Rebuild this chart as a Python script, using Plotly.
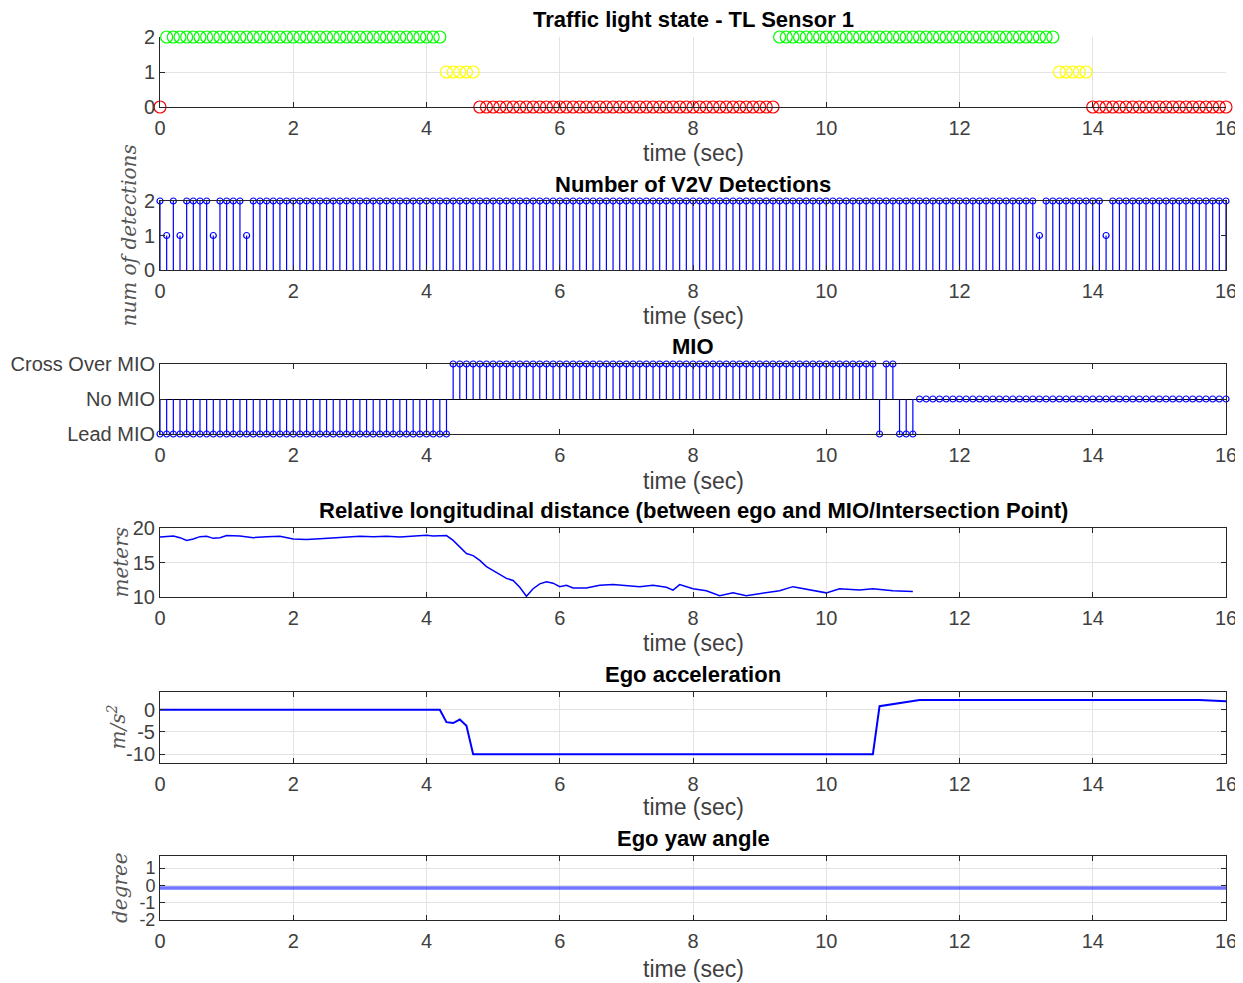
import numpy as np
import plotly.graph_objects as go

# ---------------- DATA ----------------
DT = 0.1
N_SAMPLES = 161
time = np.round(np.arange(N_SAMPLES) * DT, 1)

# Traffic light state segments: (state, t_start, t_end)  2=green 1=yellow 0=red
tl_segments = [
    (0, 0.0, 0.0),
    (2, 0.1, 4.2),
    (1, 4.3, 4.7),
    (0, 4.8, 9.2),
    (2, 9.3, 13.4),
    (1, 13.5, 13.9),
    (0, 14.0, 16.0),
]
tl_colors = {2: "#00FF00", 1: "#FFFF00", 0: "#FF0000"}

# Number of V2V detections: 2 everywhere except these sample times (value 1)
v2v_default = 2
v2v_exceptions_t = [0.1, 0.3, 0.8, 1.3, 13.2, 14.2]
v2v_exceptions_v = [1, 1, 1, 1, 1, 1]

# MIO segments: (value, t_start, t_end)  -1=Lead MIO, 0=No MIO, 1=Cross Over MIO
mio_segments = [
    (-1, 0.0, 4.3),
    (1, 4.4, 10.7),
    (-1, 10.8, 10.8),
    (1, 10.9, 11.0),
    (-1, 11.1, 11.3),
    (0, 11.4, 16.0),
]
mio_ticktext = ["Lead MIO", "No MIO", "Cross Over MIO"]
mio_tickvals = [-1, 0, 1]

# Relative longitudinal distance (m)
dist_t = [0.0, 0.1, 0.2, 0.3, 0.4, 0.5, 0.6, 0.7, 0.8, 0.9, 1.0, 1.2, 1.4, 1.6, 1.8,
          2.0, 2.2, 2.4, 2.6, 2.8, 3.0, 3.2, 3.4, 3.6, 3.8, 4.0, 4.1, 4.2, 4.3, 4.4,
          4.5, 4.6, 4.7, 4.8, 4.9, 5.0, 5.1, 5.2, 5.3, 5.4, 5.5, 5.6, 5.7, 5.8, 5.9,
          6.0, 6.1, 6.2, 6.4, 6.6, 6.8, 7.0, 7.2, 7.4, 7.6, 7.7, 7.8, 8.0, 8.2, 8.4,
          8.6, 8.8, 9.0, 9.3, 9.5, 9.7, 10.0, 10.2, 10.5, 10.7, 11.0, 11.3]
dist_v = [18.7, 18.8, 18.85, 18.6, 18.2, 18.4, 18.75, 18.8, 18.5, 18.6, 18.9, 18.85, 18.6, 18.75, 18.8,
          18.4, 18.35, 18.45, 18.6, 18.75, 18.8, 18.75, 18.8, 18.7, 18.8, 18.95, 18.85, 18.9, 18.9, 18.2,
          17.3, 16.3, 16.0, 15.3, 14.4, 13.8, 13.2, 12.7, 12.4, 11.4, 10.1, 11.2, 11.9, 12.2, 12.0,
          11.5, 11.7, 11.3, 11.3, 11.7, 11.8, 11.6, 11.5, 11.7, 11.4, 11.0, 11.8, 11.2, 10.9, 10.2,
          10.6, 10.2, 10.5, 10.9, 11.5, 11.1, 10.6, 11.2, 11.0, 11.2, 10.9, 10.8]

# Ego acceleration (m/s^2)
acc_t = [0.0, 4.2, 4.3, 4.4, 4.5, 4.6, 4.7, 10.7, 10.8, 11.4, 15.6, 16.0]
acc_v = [0.0, 0.0, -2.8, -3.0, -2.2, -3.6, -10.0, -10.0, 0.8, 2.2, 2.2, 1.9]

# Ego yaw angle (degree)
yaw_t = [0.0, 16.0]
yaw_v = [-0.15, -0.15]

# Tick labels
x_tickvals = [0, 2, 4, 6, 8, 10, 12, 14, 16]
tl_ticks = [0, 1, 2]
v2v_ticks = [0, 1, 2]
dist_ticks = [10, 15, 20]
acc_ticks = [-10, -5, 0]
acc_ticktext = ["-10", "-5", "0"]
yaw_ticks = [-2, -1, 0, 1]
yaw_ticktext = ["-2", "-1", "0", "1"]

titles = [
    "Traffic light state - TL Sensor 1",
    "Number of V2V Detections",
    "MIO",
    "Relative longitudinal distance (between ego and MIO/Intersection Point)",
    "Ego acceleration",
    "Ego yaw angle",
]
ylabels = [None, "num of detections", None, "meters", "m/s<sup>2</sup>", "degree"]
xlabel = "time (sec)"

# ---------------- LAYOUT GEOMETRY (screen pixels) ----------------
PAGE_OFF = 8                      # default body margin of the html page
W, H = 1243 - PAGE_OFF, 983 - PAGE_OFF
X0, X1 = 160, 1226
panels = [(37, 107), (201, 270), (364, 434), (528, 597), (692, 763), (856, 920)]
title_y = [19, 184, 346, 511, 674, 838]
xlab_y = [153, 316, 481, 643, 807, 969]
ylab_x = [None, 128, None, 120, 116, 120]

FONT = "Liberation Sans, Arial, Helvetica, sans-serif"
TICKC = "#404040"
GRIDC = "#e3e3e3"
BLUE = "#0000FF"
TICK_FS = 20
LABEL_FS = 23
TITLE_FS = 22
ytick_fs = [TICK_FS, TICK_FS, TICK_FS, TICK_FS, TICK_FS, 18]


def px2x(p):
    return (p - PAGE_OFF) / W


def px2y(p):
    return 1 - (p - PAGE_OFF) / H


fig = go.Figure()

# Panel 1: traffic light
for state, t0, t1 in tl_segments:
    mask = (time >= t0 - 1e-9) & (time <= t1 + 1e-9)
    fig.add_trace(go.Scatter(
        x=time[mask], y=np.full(mask.sum(), state), mode="markers",
        marker=dict(symbol="circle-open", size=12, color=tl_colors[state], line=dict(width=1.2)),
        cliponaxis=False, xaxis="x", yaxis="y", showlegend=False))

# Panel 2: V2V detections (stem)
v2v = np.full(N_SAMPLES, v2v_default, dtype=float)
for tt, vv in zip(v2v_exceptions_t, v2v_exceptions_v):
    v2v[np.isclose(time, tt)] = vv
fig.add_trace(go.Scatter(
    x=time, y=v2v, mode="markers",
    marker=dict(symbol="circle-open", size=6, color=BLUE, line=dict(width=1.2)),
    error_y=dict(type="data", symmetric=False, array=np.zeros(N_SAMPLES), arrayminus=v2v,
                 width=0, thickness=1.2, color=BLUE),
    cliponaxis=False, xaxis="x2", yaxis="y2", showlegend=False))

# Panel 3: MIO (stem about 0)
mio = np.zeros(N_SAMPLES)
for val, t0, t1 in mio_segments:
    mask = (time >= t0 - 1e-9) & (time <= t1 + 1e-9)
    mio[mask] = val
fig.add_trace(go.Scatter(
    x=time, y=mio, mode="markers",
    marker=dict(symbol="circle-open", size=6, color=BLUE, line=dict(width=1.2)),
    error_y=dict(type="data", symmetric=False, array=np.maximum(-mio, 0),
                 arrayminus=np.maximum(mio, 0), width=0, thickness=1.2, color=BLUE),
    cliponaxis=False, xaxis="x3", yaxis="y3", showlegend=False))

# Panel 4: distance
fig.add_trace(go.Scatter(x=dist_t, y=dist_v, mode="lines",
                         line=dict(color=BLUE, width=1.5),
                         xaxis="x4", yaxis="y4", showlegend=False))
# Panel 5: acceleration
fig.add_trace(go.Scatter(x=acc_t, y=acc_v, mode="lines",
                         line=dict(color=BLUE, width=2),
                         xaxis="x5", yaxis="y5", showlegend=False))
# Panel 6: yaw
fig.add_trace(go.Scatter(x=yaw_t, y=yaw_v, mode="lines",
                         line=dict(color="rgba(40,40,255,0.65)", width=3.5),
                         xaxis="x6", yaxis="y6", showlegend=False))

yranges = [[0, 2], [0, 2], [-1, 1], [10, 20], [-12, 4], [-2, 1.7]]
ytickvals = [tl_ticks, v2v_ticks, mio_tickvals, dist_ticks, acc_ticks, yaw_ticks]
yticktext = [None, None, mio_ticktext, None, acc_ticktext, yaw_ticktext]
grid_on = [True, False, False, True, True, True]
box_on = [False, True, True, True, True, True]

layout = dict(
    width=W, height=H, margin=dict(l=0, r=0, t=0, b=0, autoexpand=False),
    paper_bgcolor="white", plot_bgcolor="white",
    font=dict(family=FONT, size=TICK_FS, color=TICKC),
    showlegend=False,
)
annotations = []
for i, (top, bot) in enumerate(panels):
    sfx = "" if i == 0 else str(i + 1)
    mirror = "ticks" if box_on[i] else False
    layout["xaxis" + sfx] = dict(
        domain=[px2x(X0), px2x(X1)], range=[0, 16], anchor="y" + sfx, automargin=False,
        tickvals=x_tickvals, ticks="inside", ticklen=5, tickcolor="#262626",
        showline=True, linecolor="#262626", linewidth=1, mirror=mirror,
        showgrid=grid_on[i], gridcolor=GRIDC, zeroline=False,
        tickfont=dict(size=TICK_FS, color=TICKC), ticklabelstandoff=3,
    )
    ya = dict(
        domain=[px2y(bot), px2y(top)], range=yranges[i], anchor="x" + sfx, automargin=False,
        tickvals=ytickvals[i], ticks="inside", ticklen=5, tickcolor="#262626",
        showline=True, linecolor="#262626", linewidth=1, mirror=mirror,
        showgrid=grid_on[i], gridcolor=GRIDC, zeroline=False,
        tickfont=dict(size=ytick_fs[i], color=TICKC), ticklabelstandoff=0,
    )
    if yticktext[i] is not None:
        ya["ticktext"] = yticktext[i]
    if i == 2:
        ya["zeroline"] = True
        ya["zerolinecolor"] = "#000000"
        ya["zerolinewidth"] = 1
    layout["yaxis" + sfx] = ya

    annotations.append(dict(
        text="<b>" + titles[i] + "</b>", x=px2x((X0 + X1) / 2), y=px2y(title_y[i]),
        xref="paper", yref="paper", xanchor="center", yanchor="middle", showarrow=False,
        font=dict(family=FONT, size=TITLE_FS, color="#000000")))
    annotations.append(dict(
        text=xlabel, x=px2x((X0 + X1) / 2), y=px2y(xlab_y[i]),
        xref="paper", yref="paper", xanchor="center", yanchor="middle", showarrow=False,
        font=dict(family=FONT, size=LABEL_FS, color=TICKC)))
    if ylabels[i] is not None:
        annotations.append(dict(
            text="<i>" + ylabels[i] + "</i>", x=px2x(ylab_x[i]), y=px2y((top + bot) / 2),
            xref="paper", yref="paper", xanchor="center", yanchor="middle", showarrow=False,
            textangle=-90,
            font=dict(family="DejaVu Serif, Liberation Serif, serif", size=20, color="#555555")))

layout["annotations"] = annotations
fig.update_layout(**layout)
fig.write_html("out.html")
